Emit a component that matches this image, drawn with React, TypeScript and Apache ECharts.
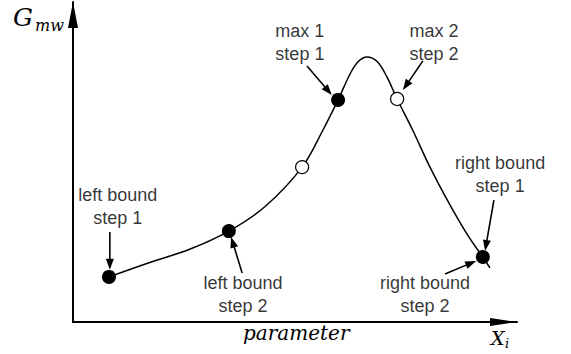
import React, { useEffect, useRef } from 'react';
import * as echarts from 'echarts';

// Response curve G_mw(X_i), sampled along the parameter axis (0..100 both ways)
const curveX = [8.1, 17.3, 26.4, 35.1, 43.2, 51.6, 56.3, 59.7, 62.4, 64.2, 66.2, 68.5, 70.7, 73.0, 76.6, 80.4, 84.9, 89.0, 92.3, 93.9];
const curveY = [14.1, 18.6, 22.8, 28.4, 36.0, 48.4, 60.0, 69.4, 77.5, 81.3, 82.8, 81.4, 76.6, 69.7, 59.7, 48.4, 36.6, 26.9, 20.3, 16.9];

// Search points: filled = step 1 / bounds, open = step 2 maxima
const filledX = [8.1, 35.1, 59.7, 92.3];
const filledY = [14.1, 28.4, 69.4, 20.3];
const openX = [51.6, 73.0];
const openY = [48.4, 69.7];

// Annotation captions and their anchor (block centre)
const noteText = ['left bound\nstep 1', 'left bound\nstep 2', 'max 1\nstep 1', 'max 2\nstep 2', 'right bound\nstep 1', 'right bound\nstep 2'];
const noteX = [10.1, 38.3, 51.1, 81.3, 96.2, 79.3];
const noteY = [36.1, 8.75, 87.5, 87.5, 46.2, 8.75];

// Pointer arrows: start -> tip
const arrowFromX = [8.3, 38.1, 52.7, 78.8, 94.8, 83.8];
const arrowFromY = [28.1, 15.3, 80.0, 81.6, 38.1, 15.0];
const arrowToX = [8.3, 35.6, 58.3, 74.3, 92.8, 90.8];
const arrowToY = [16.3, 26.6, 70.9, 72.5, 22.2, 19.1];

const zip = (xs: number[], ys: number[]) => xs.map((x, i) => [x, ys[i]]);

export default function App() {
  const ref = useRef<HTMLDivElement>(null);

  useEffect(() => {
    if (!ref.current) return;
    const chart = echarts.init(ref.current, undefined, { renderer: 'svg' });

    const arrowData = arrowFromX.map((x, i) => [x, arrowFromY[i], arrowToX[i], arrowToY[i]]);
    const noteData = noteX.map((x, i) => ({ value: [x, noteY[i]], name: noteText[i] }));

    const axisArrow = (w: number, h: number) => ({
      symbol: ['none', `path://M${w / 2},0 L${w},${h} L0,${h} Z`],
      symbolSize: [w, h],
      symbolOffset: [0, -h / 2],
    });

    chart.setOption({
      animation: false,
      backgroundColor: '#ffffff',
      grid: { left: 73, right: 54, top: 2, bottom: 32 },
      xAxis: {
        type: 'value',
        min: 0,
        max: 100,
        axisLine: { show: true, lineStyle: { color: '#000', width: 2 }, ...axisArrow(8, 27) },
        axisTick: { show: false },
        axisLabel: { show: false },
        splitLine: { show: false },
      },
      yAxis: {
        type: 'value',
        min: 0,
        max: 100,
        axisLine: { show: true, lineStyle: { color: '#000', width: 2 }, ...axisArrow(10, 26) },
        axisTick: { show: false },
        axisLabel: { show: false },
        splitLine: { show: false },
      },
      graphic: [
        { type: 'text', left: 13, top: 5, style: { text: 'G', font: 'italic 25px "DejaVu Serif"', fill: '#000' } },
        { type: 'text', left: 35, top: 17, style: { text: 'mw', font: 'italic 16px "DejaVu Serif"', fill: '#000' } },
        { type: 'text', left: 243, top: 323, style: { text: 'parameter', font: 'italic 20px "DejaVu Serif"', fill: '#000' } },
        { type: 'text', left: 491, top: 328, style: { text: 'X', font: 'italic 19px "DejaVu Serif"', fill: '#000' } },
        { type: 'text', left: 505, top: 337, style: { text: 'i', font: 'italic 13px "DejaVu Serif"', fill: '#000' } },
      ],
      series: [
        {
          type: 'line',
          data: zip(curveX, curveY),
          smooth: 0.35,
          symbol: 'none',
          lineStyle: { color: '#000', width: 1.5 },
          z: 2,
        },
        {
          type: 'custom',
          data: arrowData,
          encode: { x: [0, 2], y: [1, 3] },
          z: 3,
          renderItem: (_params: any, api: any) => {
            const p0 = api.coord([api.value(0), api.value(1)]);
            const p1 = api.coord([api.value(2), api.value(3)]);
            const dx = p1[0] - p0[0];
            const dy = p1[1] - p0[1];
            const len = Math.hypot(dx, dy) || 1;
            const ux = dx / len;
            const uy = dy / len;
            const headLen = 11;
            const headW = 4;
            const bx = p1[0] - ux * headLen;
            const by = p1[1] - uy * headLen;
            return {
              type: 'group',
              children: [
                { type: 'line', shape: { x1: p0[0], y1: p0[1], x2: bx + ux * 2, y2: by + uy * 2 }, style: { stroke: '#000', lineWidth: 1.6 } },
                {
                  type: 'polygon',
                  shape: { points: [p1, [bx - uy * headW, by + ux * headW], [bx + uy * headW, by - ux * headW]] },
                  style: { fill: '#000' },
                },
              ],
            };
          },
        },
        {
          type: 'scatter',
          data: zip(filledX, filledY),
          symbol: 'circle',
          symbolSize: 14,
          itemStyle: { color: '#000', opacity: 1 },
          z: 4,
        },
        {
          type: 'scatter',
          data: zip(openX, openY),
          symbol: 'circle',
          symbolSize: 13,
          itemStyle: { color: '#fff', borderColor: '#000', borderWidth: 1.2, opacity: 1 },
          z: 4,
        },
        {
          type: 'scatter',
          data: noteData,
          symbolSize: 0,
          z: 5,
          label: {
            show: true,
            position: 'inside',
            formatter: (p: any) => p.name,
            fontFamily: '"Liberation Sans", Arial, sans-serif',
            fontSize: 18,
            lineHeight: 23,
            color: '#000',
            textBorderWidth: 0,
            align: 'center',
            verticalAlign: 'middle',
          },
        },
      ],
    });

    return () => chart.dispose();
  }, []);

  return (
    <div
      ref={ref}
      style={{ position: 'fixed', left: 0, top: 0, width: 571, height: 354, background: '#fff' }}
    />
  );
}
